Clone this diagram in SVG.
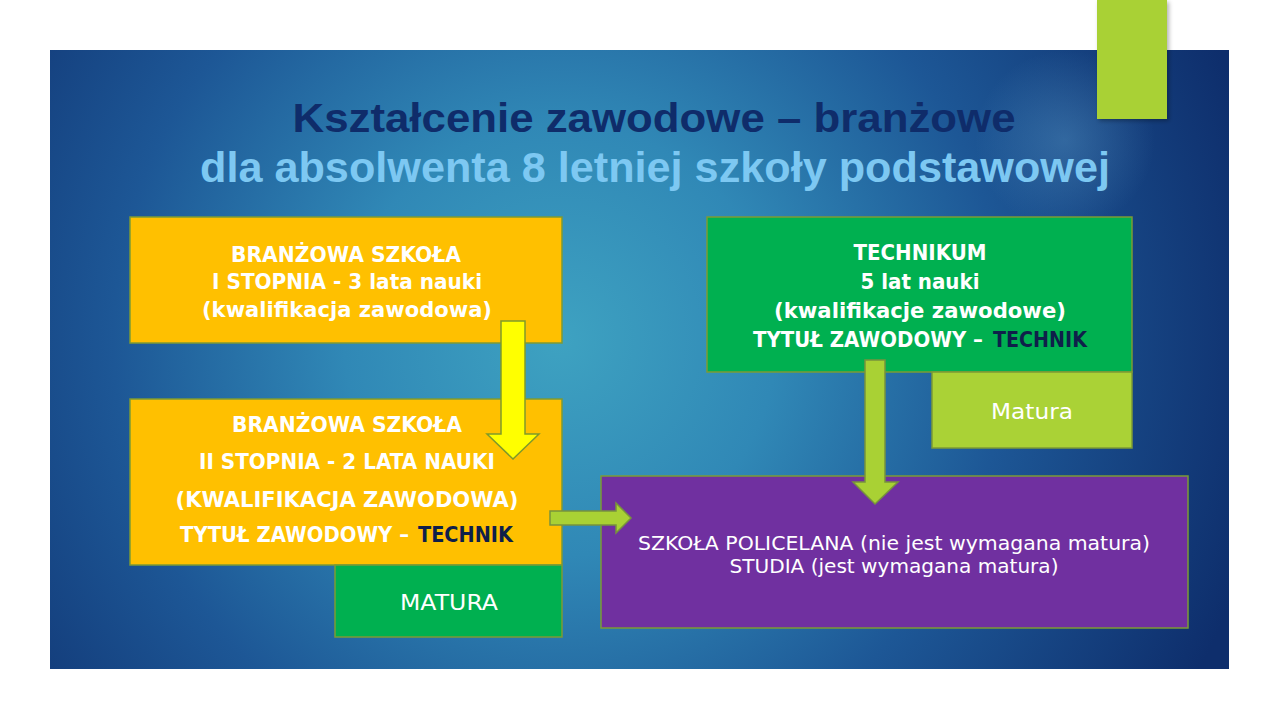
<svg xmlns="http://www.w3.org/2000/svg" width="1280" height="720" viewBox="0 0 1280 720">
  <defs>
    <radialGradient id="bg" gradientUnits="userSpaceOnUse" cx="560" cy="340" r="720">
      <stop offset="0" stop-color="#3ea2c1"/>
      <stop offset="0.3" stop-color="#3088b6"/>
      <stop offset="0.62" stop-color="#1d5796"/>
      <stop offset="1" stop-color="#0e2e6c"/>
    </radialGradient>
    <radialGradient id="glow" gradientUnits="userSpaceOnUse" cx="1065" cy="140" r="90">
      <stop offset="0" stop-color="#6fb0d8" stop-opacity="0.3"/>
      <stop offset="1" stop-color="#6fb0d8" stop-opacity="0"/>
    </radialGradient>
    <filter id="shadow" x="-20%" y="-20%" width="150%" height="150%">
      <feDropShadow dx="2" dy="2" stdDeviation="2" flood-color="#000" flood-opacity="0.3"/>
    </filter>
  </defs>
  <style>
    .box { stroke: #7c9a36; stroke-width: 1.5; }
    .yellow { fill: #FFC000; }
    .green { fill: #00B050; }
    .lime { fill: #AAD236; }
    .purple { fill: #7030A0; }
    .bt { font-family: "DejaVu Sans", "Liberation Sans", sans-serif; font-weight: bold; font-size: 21px; fill: #ffffff; text-anchor: middle; }
    .bs { font-family: "DejaVu Sans", "Liberation Sans", sans-serif; font-weight: bold; font-size: 21px; fill: #ffffff; text-anchor: start; }
    .rt { font-family: "DejaVu Sans", "Liberation Sans", sans-serif; font-weight: normal; fill: #ffffff; text-anchor: middle; }
    .dark { fill: #0F1F4A; }
    .t1 { font-family: "Liberation Sans", Arial, sans-serif; font-weight: bold; font-size: 41px; fill: #0F2C6A; text-anchor: middle; }
    .t2 { font-family: "Liberation Sans", Arial, sans-serif; font-weight: bold; font-size: 42px; fill: #7DC8F2; text-anchor: middle; }
    .arrowY { fill: #FFFF00; stroke: #7f9a2a; stroke-width: 1.5; }
    .arrowG { fill: #A9D134; stroke: #77933C; stroke-width: 1.5; }
  </style>

  <rect x="0" y="0" width="1280" height="720" fill="#ffffff"/>
  <rect x="50" y="50" width="1179" height="619" fill="url(#bg)"/>
  <rect x="50" y="50" width="1179" height="619" fill="url(#glow)"/>
  <rect x="1097" y="0" width="70" height="119" fill="#A9D134" filter="url(#shadow)"/>

  <g id="title">
    <text class="t1" x="654" y="132" textLength="723" lengthAdjust="spacingAndGlyphs">Kształcenie zawodowe – branżowe</text>
    <text class="t2" x="655" y="182" textLength="910" lengthAdjust="spacingAndGlyphs">dla absolwenta 8 letniej szkoły podstawowej</text>
  </g>

  <g id="branzowa1">
    <rect class="box yellow" x="130" y="217" width="432" height="126"/>
    <text class="bt" x="346" y="262" textLength="230" lengthAdjust="spacingAndGlyphs">BRANŻOWA SZKOŁA</text>
    <text class="bt" x="347" y="289" textLength="270" lengthAdjust="spacingAndGlyphs">I STOPNIA - 3 lata nauki</text>
    <text class="bt" x="347" y="317" textLength="290" lengthAdjust="spacingAndGlyphs">(kwalifikacja zawodowa)</text>
  </g>

  <g id="branzowa2">
    <rect class="box yellow" x="130" y="399" width="432" height="166"/>
    <text class="bt" x="347" y="432" textLength="230" lengthAdjust="spacingAndGlyphs">BRANŻOWA SZKOŁA</text>
    <text class="bt" x="347" y="469" textLength="296" lengthAdjust="spacingAndGlyphs">II STOPNIA - 2 LATA NAUKI</text>
    <text class="bt" x="347" y="507" textLength="343" lengthAdjust="spacingAndGlyphs">(KWALIFIKACJA ZAWODOWA)</text>
    <text class="bs" x="180" y="542" textLength="229" lengthAdjust="spacingAndGlyphs">TYTUŁ ZAWODOWY –</text>
    <text class="bs dark" x="418" y="542" textLength="95" lengthAdjust="spacingAndGlyphs">TECHNIK</text>
  </g>

  <g id="matura1">
    <rect class="box green" x="335" y="565" width="227" height="72"/>
    <text class="rt" x="449" y="610" font-size="21" textLength="98" lengthAdjust="spacingAndGlyphs">MATURA</text>
  </g>

  <g id="technikum">
    <rect class="box green" x="707" y="217" width="425" height="155"/>
    <text class="bt" x="920" y="260" textLength="133" lengthAdjust="spacingAndGlyphs">TECHNIKUM</text>
    <text class="bt" x="920" y="289" textLength="119" lengthAdjust="spacingAndGlyphs">5 lat nauki</text>
    <text class="bt" x="920" y="318" textLength="292" lengthAdjust="spacingAndGlyphs">(kwalifikacje zawodowe)</text>
    <text class="bs" x="753" y="347" textLength="230" lengthAdjust="spacingAndGlyphs">TYTUŁ ZAWODOWY –</text>
    <text class="bs dark" x="993" y="347" textLength="94" lengthAdjust="spacingAndGlyphs">TECHNIK</text>
  </g>

  <g id="matura2">
    <rect class="box lime" x="932" y="372" width="200" height="76"/>
    <text class="rt" x="1032" y="419" font-size="21" textLength="82" lengthAdjust="spacingAndGlyphs">Matura</text>
  </g>

  <g id="dalej">
    <rect class="box purple" x="601" y="476" width="587" height="152"/>
    <text class="rt" x="894" y="550" font-size="19" textLength="512" lengthAdjust="spacingAndGlyphs">SZKOŁA POLICELANA (nie jest wymagana matura)</text>
    <text class="rt" x="894" y="573" font-size="19" textLength="329" lengthAdjust="spacingAndGlyphs">STUDIA (jest wymagana matura)</text>
  </g>

  <g id="connectors">
    <polygon class="arrowY" points="501,321 525,321 525,434 539,434 513,459 487,434 501,434"/>
    <polygon class="arrowG" points="865,360 885,360 885,482 898,482 875,504 853,482 865,482"/>
    <polygon class="arrowG" points="550,511 616,511 616,503 631,518 616,533 616,525 550,525"/>
  </g>
</svg>
